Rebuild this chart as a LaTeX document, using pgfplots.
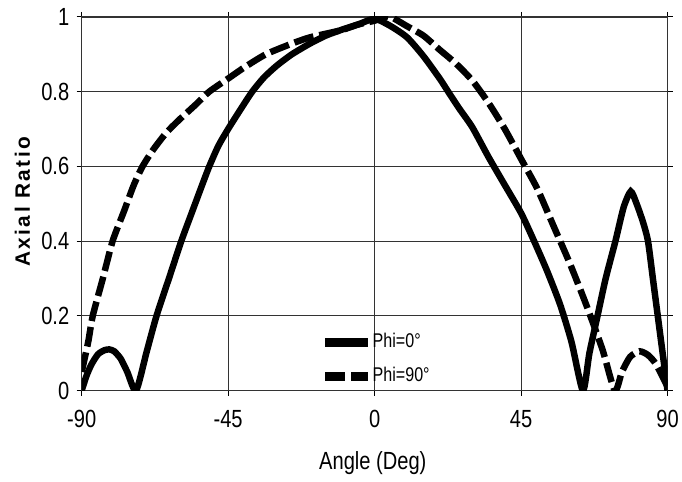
\documentclass[border=0pt]{standalone}
\usepackage{fontspec}
\setmainfont{Liberation Sans}[FakeStretch=0.81]
\newfontfamily\ylab{Liberation Sans}[LetterSpace=12]
\usepackage{pgfplots}
\pgfplotsset{compat=1.18}
\begin{document}
\begin{tikzpicture}[x=1bp,y=1bp]
\path (0,0) rectangle (682,483);
\begin{axis}[
  at={(82bp,91bp)}, anchor=south west,
  scale only axis, width=588bp, height=375bp,
  xmin=-90, xmax=90, ymin=0, ymax=1,
  xtick={-90,-45,0,45,90},
  ytick={0,0.2,0.4,0.6,0.8,1},
  yticklabels={0,0.2,0.4,0.6,0.8,1},
  grid=major,
  grid style={line width=1bp, black!80},
  axis line style={line width=1.2bp, black!80},
  tick style={line width=1bp, black},
  tick align=outside,
  major tick length=5bp,
  /pgf/number format/assume math mode=true,
  ticklabel style={font=\fontsize{25}{25}\selectfont},
  xticklabel style={yshift=-11bp},
  yticklabel style={xshift=-4bp},
  xlabel={Angle (Deg)},
  ylabel={\ylab\bfseries Axial Ratio},
  xlabel style={font=\fontsize{25}{25}\selectfont, at={(axis description cs:0.497,-0.195)}, anchor=center},
  ylabel style={font=\fontsize{21}{21}\selectfont, at={(axis description cs:-0.101,0.505)}, anchor=center},
  legend style={at={(axis description cs:0.408,0.153)}, anchor=north west, draw=none, fill=none,
    font=\fontsize{20}{20}\selectfont, row sep=16bp, inner sep=0pt, column sep=0pt,
    nodes={inner sep=0pt, text height=14bp, text depth=4bp}},
  legend cell align=left,
  legend image code/.code={\draw[#1, line width=9bp] (0bp,0bp) -- (43bp,0bp);},
  /tikz/every even column/.append style={column sep=13bp},
]
\addplot[black, line width=6.5bp, smooth, tension=0.4] coordinates {
(-90,0.0) (-88.5,0.04) (-87,0.07) (-85,0.097) (-83,0.108) (-81.5,0.11) (-80,0.105) (-78,0.085) (-76,0.05) (-73.3,0.0)
(-70,0.105) (-67,0.2) (-63,0.305) (-59.4,0.4) (-56,0.48) (-53,0.55) (-50.8,0.6) (-48,0.655) (-45,0.70)
(-41,0.755) (-37.6,0.8) (-34,0.838) (-30,0.87) (-25.4,0.9) (-20,0.928) (-15,0.95) (-10,0.966)
(-5,0.98) (0,0.995) (5,0.975) (10,0.945) (15,0.895) (20,0.835) (22.6,0.8) (26,0.755) (30,0.705)
(35,0.625) (40,0.55) (45,0.475) (49,0.4) (53,0.32) (57,0.23) (60.5,0.13) (64,0.0)
(66,0.1) (68.5,0.2) (71,0.3) (74,0.4) (76.5,0.49) (78.7,0.533) (80.5,0.5)
(82.5,0.45) (84,0.4) (85.5,0.3) (87,0.2) (88.5,0.1) (90,0.0)
};
\addlegendentry{Phi=0°}
\addplot[black, line width=6.5bp, dash pattern=on 20bp off 6bp, smooth, tension=0.4] coordinates {
(-90,0.05) (-88,0.13) (-86.6,0.2) (-83.5,0.3) (-80.5,0.4) (-77,0.48) (-74,0.55) (-71.3,0.6)
(-68,0.645) (-64,0.69) (-60,0.725) (-55,0.765) (-50.8,0.8) (-45,0.835) (-40,0.865) (-33.4,0.9)
(-25,0.93) (-20,0.945) (-15,0.955) (-10,0.965) (-5,0.98) (0,0.99) (3,1.0) (5,1.0)
(10,0.975) (15,0.95) (20,0.912) (25,0.875) (30,0.83) (35,0.77) (40,0.7) (45,0.62)
(50,0.54) (55,0.44) (60,0.34) (65,0.23) (70,0.11) (73.8,0.0)
(76,0.05) (78.5,0.09) (81.4,0.105) (84,0.095) (86.5,0.07) (90,0.01)
};
\addlegendentry{Phi=90°}
\end{axis}
\end{tikzpicture}
\end{document}
